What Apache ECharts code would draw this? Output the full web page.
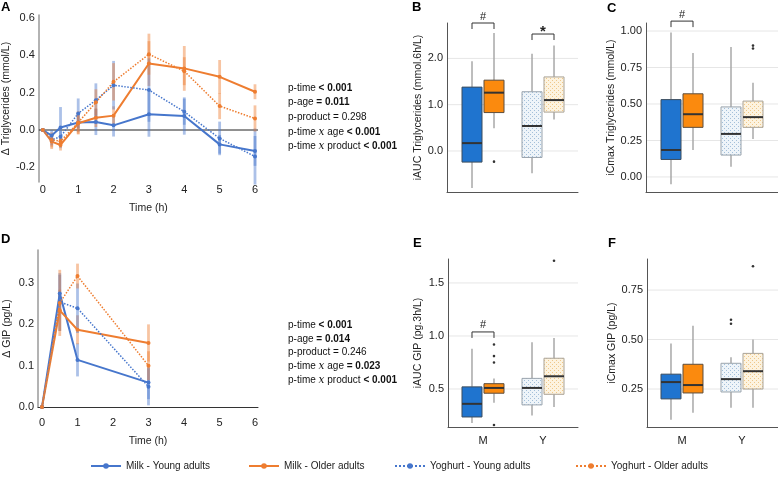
<!DOCTYPE html>
<html><head><meta charset="utf-8">
<script src="https://cdn.jsdelivr.net/npm/echarts@6/dist/echarts.min.js"></script>
<style>html,body{margin:0;padding:0;background:#fff}#c{width:778px;height:481px}</style>
</head><body><div id="c"></div>
<script>
// ---------- DATA ----------
const timesTG = [0, 0.25, 0.5, 1, 1.5, 2, 3, 4, 5, 6];
const tgMilkYoung = [0, -0.03, 0.013, 0.04, 0.043, 0.025, 0.084, 0.075, -0.077, -0.112];
const tgMilkOlder = [0, -0.062, -0.08, 0.036, 0.066, 0.077, 0.356, 0.33, 0.285, 0.205];
const tgYogYoung = [0, -0.053, -0.036, 0.089, 0.16, 0.24, 0.214, 0.098, -0.045, -0.142];
const tgYogOlder = [0, -0.053, -0.06, 0.04, 0.148, 0.258, 0.406, 0.315, 0.128, 0.062];
const tgMilkYoungSE = [0, 0.03, 0.11, 0.05, 0.07, 0.06, 0.12, 0.1, 0.05, 0.08];
const tgMilkOlderSE = [0, 0.04, 0.03, 0.06, 0.05, 0.05, 0.12, 0.12, 0.09, 0.04];
const tgYogYoungSE = [0, 0.03, 0.03, 0.08, 0.09, 0.13, 0.17, 0.07, 0.09, 0.15];
const tgYogOlderSE = [0, 0.04, 0.03, 0.06, 0.07, 0.1, 0.11, 0.075, 0.07, 0.07];

const timesGIP = [0, 0.5, 1, 3];
const gipMilkYoung = [0, 0.275, 0.114, 0.059];
const gipMilkOlder = [0, 0.234, 0.187, 0.155];
const gipYogYoung = [0, 0.254, 0.239, 0.049];
const gipYogOlder = [0, 0.252, 0.317, 0.100];
const gipMilkYoungSE = [0, 0.045, 0.04, 0.04];
const gipMilkOlderSE = [0, 0.05, 0.035, 0.045];
const gipYogYoungSE = [0, 0.07, 0.06, 0.045];
const gipYogOlderSE = [0, 0.08, 0.03, 0.035];

const hourTicks = [0, 1, 2, 3, 4, 5, 6];
const tgTicks = [-0.2, 0, 0.2, 0.4, 0.6];
const gipTicks = [0, 0.1, 0.2, 0.3];
const productCats = ['M', 'Y'];
const seriesNames = ['Milk - Young adults', 'Milk - Older adults', 'Yoghurt - Young adults', 'Yoghurt - Older adults'];

// box stats: [min, Q1, median, Q3, max]
const bMilkYoung = [-0.80, -0.24, 0.17, 1.38, 1.94];
const bMilkOlder = [0.49, 0.83, 1.26, 1.53, 2.55];
const bYogYoung = [-0.48, -0.14, 0.54, 1.28, 2.10];
const bYogOlder = [0.68, 0.84, 1.10, 1.60, 2.28];
const bOutMilkOlder = [-0.23];
const bTicks = [0, 1, 2];

const cMilkYoung = [-0.05, 0.12, 0.185, 0.53, 0.99];
const cMilkOlder = [0.185, 0.34, 0.43, 0.57, 0.85];
const cYogYoung = [0.07, 0.15, 0.295, 0.48, 0.89];
const cYogOlder = [0.26, 0.34, 0.41, 0.52, 0.645];
const cOutYogOlder = [0.88, 0.90];
const cTicks = [0, 0.25, 0.5, 0.75, 1.0];

const eMilkYoung = [0.18, 0.236, 0.36, 0.52, 0.88];
const eMilkOlder = [0.37, 0.46, 0.51, 0.55, 0.60];
const eYogYoung = [0.25, 0.35, 0.51, 0.60, 0.94];
const eYogOlder = [0.33, 0.45, 0.62, 0.79, 0.98];
const eOutMilkOlder = [0.92, 0.81, 0.75, 0.16];
const eOutYogOlder = [1.71];
const eTicks = [0.5, 1.0, 1.5];

const fMilkYoung = [0.095, 0.20, 0.285, 0.325, 0.48];
const fMilkOlder = [0.13, 0.23, 0.27, 0.375, 0.57];
const fYogYoung = [0.155, 0.235, 0.30, 0.38, 0.41];
const fYogOlder = [0.155, 0.25, 0.34, 0.43, 0.50];
const fOutYogYoung = [0.60, 0.58];
const fOutYogOlder = [0.87];
const fTicks = [0.25, 0.5, 0.75];

// significance brackets: [category index (1=M,2=Y), y value, label index]
const sigLabels = ['#', '*'];
const sigB = [[1, 2.765, 0], [2, 2.527, 1]];
const sigC = [[1, 1.068, 0]];
const sigE = [[1, 1.038, 0]];

const pTextA = ['{n|p-time }{b|< 0.001}', '{n|p-age }{b|= 0.011}', '{n|p-product = 0.298}',
  '{n|p-time }{i|x}{n| age }{b|< 0.001}', '{n|p-time }{i|x}{n| product }{b|< 0.001}'];
const pTextD = ['{n|p-time }{b|< 0.001}', '{n|p-age }{b|= 0.014}', '{n|p-product = 0.246}',
  '{n|p-time }{i|x}{n| age }{b|= 0.023}', '{n|p-time }{i|x}{n| product }{b|< 0.001}'];

// ---------- STYLE ----------
const FONT = 'Liberation Sans, Arial, Helvetica, sans-serif';
const BLUE = '#4676cc', ORANGE = '#ee7d30';
function makePattern(bg, dot) {
  const c = document.createElement('canvas'); c.width = 4; c.height = 4;
  const x = c.getContext('2d'); x.fillStyle = bg; x.fillRect(0, 0, 4, 4);
  x.fillStyle = dot; x.fillRect(0, 0, 1, 1); x.fillRect(2, 2, 1, 1);
  return { image: c, repeat: 'repeat' };
}
const boxStyles = [
  { fill: '#1f74cf', stroke: '#3d4d5d' },
  { fill: '#fb8a0e', stroke: '#5d4d3d' },
  { fill: makePattern('#eef4f9', '#a3bfd9'), stroke: '#9aa4ad' },
  { fill: makePattern('#fdf3df', '#efc88a'), stroke: '#aaa397' }
];

const chart = echarts.init(document.getElementById('c'));

const grids = [
  { left: 38, top: 15, width: 220, height: 167 },   // A
  { left: 447, top: 23, width: 131, height: 169 },  // B
  { left: 646, top: 23, width: 132, height: 169 },  // C
  { left: 38, top: 250, width: 220, height: 157 },  // D
  { left: 448, top: 259, width: 130, height: 168 }, // E
  { left: 647, top: 259, width: 131, height: 168 }  // F
];

const lbl = { fontSize: 11, color: '#222', fontFamily: FONT };
const nameStyle = { fontSize: 10.5, color: '#222', fontFamily: FONT };

function xTime(gi, lineShow, margin, gap) {
  return { type: 'value', gridIndex: gi, min: -0.113, max: 6.085,
    axisLine: { show: lineShow, onZero: false, lineStyle: { color: '#333', width: 1 } },
    axisTick: { show: false }, splitLine: { show: false },
    axisLabel: Object.assign({ customValues: hourTicks, margin: margin, formatter: v => String(v) }, lbl),
    name: 'Time (h)', nameLocation: 'middle', nameGap: gap, nameTextStyle: nameStyle };
}
function xCat(gi, min, max, showLabels) {
  return { type: 'value', gridIndex: gi, min: min, max: max,
    axisLine: { show: true, onZero: false, lineStyle: { color: '#555', width: 1 } },
    axisTick: { show: false }, splitLine: { show: false },
    axisLabel: Object.assign({ show: showLabels, customValues: [1, 2], margin: 8,
      formatter: v => productCats[Math.round(v) - 1] }, lbl) };
}
function yVal(gi, min, max, ticks, dec, name, gap, lineColor, lineW) {
  return { type: 'value', gridIndex: gi, min: min, max: max,
    axisLine: { show: true, onZero: false, lineStyle: { color: lineColor, width: lineW } },
    axisTick: { show: false }, splitLine: { show: false },
    axisLabel: Object.assign({ customValues: ticks, margin: 4, formatter: v => v.toFixed(dec) }, lbl),
    name: name, nameLocation: 'middle', nameGap: gap, nameRotate: 90, nameTextStyle: nameStyle };
}

const xAxes = [
  xTime(0, false, 2, 21),
  xCat(1, 0.4, 2.583, false),
  xCat(2, 0.4, 2.6, false),
  xTime(3, true, 10, 29),
  xCat(4, 0.417, 2.583, true),
  xCat(5, 0.417, 2.6, true)
];
const yAxes = [
  yVal(0, -0.2785, 0.616, tgTicks, 1, 'Δ Triglycerides (mmol/L)', 25, '#9a9a9a', 1.5),
  yVal(1, -0.886, 2.765, bTicks, 1, 'iAUC Triglycerides (mmol.6h/L)', 23, '#555', 1),
  yVal(2, -0.103, 1.055, cTicks, 2, 'iCmax Triglycerides (mmol/L)', 28, '#555', 1),
  yVal(3, 0, 0.38, gipTicks, 1, 'Δ GIP (pg/L)', 25, '#9a9a9a', 1.5),
  yVal(4, 0.1415, 1.726, eTicks, 1, 'iAUC GIP (pg.3h/L)', 24, '#555', 1),
  yVal(5, 0.058, 0.907, fTicks, 2, 'iCmax GIP (pg/L)', 29, '#555', 1)
];

const series = [];
function hLines(gi, vals, color, width, z) {
  series.push({ type: 'custom', xAxisIndex: gi, yAxisIndex: gi, silent: true, z: z,
    data: vals.map(v => [v]),
    renderItem: (params, api) => {
      const cs = params.coordSys;
      const y = api.coord([1, api.value(0)])[1];
      return { type: 'line', shape: { x1: cs.x, y1: y, x2: cs.x + cs.width, y2: y },
        style: { stroke: color, lineWidth: width } };
    } });
}
function lineSeries(gi, name, xs, ys, color, dotted) {
  series.push({ type: 'line', name: name, xAxisIndex: gi, yAxisIndex: gi, z: 4,
    data: xs.map((t, i) => [t, ys[i]]), symbol: 'circle', symbolSize: 4,
    lineStyle: { color: color, width: dotted ? 1.5 : 2, type: dotted ? 'dotted' : 'solid' },
    itemStyle: { color: color }, emphasis: { disabled: true } });
}
function errSeries(gi, xs, ys, se, color) {
  series.push({ type: 'custom', xAxisIndex: gi, yAxisIndex: gi, silent: true, z: 2,
    data: xs.map((t, i) => [t, ys[i] - se[i], ys[i] + se[i]]),
    renderItem: (params, api) => {
      const p1 = api.coord([api.value(0), api.value(1)]);
      const p2 = api.coord([api.value(0), api.value(2)]);
      return { type: 'line', shape: { x1: p1[0], y1: p1[1], x2: p2[0], y2: p2[1] },
        style: { stroke: color, lineWidth: 2.8, opacity: 0.45 } };
    } });
}
function boxSeries(gi, stats) {
  series.push({ type: 'custom', xAxisIndex: gi, yAxisIndex: gi, silent: true, z: 3,
    data: stats.map((s, g) => [g].concat(s)),
    renderItem: (params, api) => {
      const g = api.value(0);
      const cat = g < 2 ? 1 : 2;
      const side = g % 2 ? 1 : -1;
      const cx = api.coord([cat, 0])[0] + side * 11;
      const y = v => api.coord([cat, v])[1];
      const hw = 10, st = boxStyles[g];
      const mn = y(api.value(1)), q1 = y(api.value(2)), md = y(api.value(3)), q3 = y(api.value(4)), mx = y(api.value(5));
      return { type: 'group', children: [
        { type: 'line', shape: { x1: cx, y1: mn, x2: cx, y2: q1 }, style: { stroke: '#a8a8a8', lineWidth: 1.5 } },
        { type: 'line', shape: { x1: cx, y1: q3, x2: cx, y2: mx }, style: { stroke: '#a8a8a8', lineWidth: 1.5 } },
        { type: 'rect', shape: { x: cx - hw, y: q3, width: 2 * hw, height: q1 - q3 }, style: { fill: st.fill, stroke: st.stroke, lineWidth: 1 } },
        { type: 'line', shape: { x1: cx - hw, y1: md, x2: cx + hw, y2: md }, style: { stroke: '#333', lineWidth: 2 } }
      ] };
    } });
}
function outSeries(gi, groupOutliers) {
  const data = [];
  groupOutliers.forEach((arr, g) => (arr || []).forEach(v => data.push([g, v])));
  series.push({ type: 'custom', xAxisIndex: gi, yAxisIndex: gi, silent: true, z: 4, data: data,
    renderItem: (params, api) => {
      const g = api.value(0);
      const cat = g < 2 ? 1 : 2;
      const side = g % 2 ? 1 : -1;
      const p = api.coord([cat, api.value(1)]);
      return { type: 'circle', shape: { cx: p[0] + side * 11, cy: p[1], r: 1.3 }, style: { fill: '#333' } };
    } });
}
function sigSeries(gi, rows) {
  series.push({ type: 'custom', xAxisIndex: gi, yAxisIndex: gi, silent: true, z: 5, data: rows,
    renderItem: (params, api) => {
      const p = api.coord([api.value(0), api.value(1)]);
      const x1 = p[0] - 11, x2 = p[0] + 11, y = p[1];
      const lab = sigLabels[api.value(2)];
      const star = lab === '*';
      return { type: 'group', children: [
        { type: 'polyline', shape: { points: [[x1, y + 6], [x1, y], [x2, y], [x2, y + 6]] }, style: { stroke: '#333', lineWidth: 1, fill: null } },
        { type: 'text', x: p[0], y: star ? y + 5 : y - 1, style: { text: lab, textAlign: 'center', textVerticalAlign: 'bottom',
          font: (star ? 'bold 15px ' : '11px ') + FONT, fill: '#222' } }
      ] };
    } });
}

// Panel A
hLines(0, [0], '#222', 1, 1);
errSeries(0, timesTG, tgMilkYoung, tgMilkYoungSE, BLUE);
errSeries(0, timesTG, tgMilkOlder, tgMilkOlderSE, ORANGE);
errSeries(0, timesTG, tgYogYoung, tgYogYoungSE, BLUE);
errSeries(0, timesTG, tgYogOlder, tgYogOlderSE, ORANGE);
lineSeries(0, seriesNames[0], timesTG, tgMilkYoung, BLUE, false);
lineSeries(0, seriesNames[1], timesTG, tgMilkOlder, ORANGE, false);
lineSeries(0, seriesNames[2], timesTG, tgYogYoung, BLUE, true);
lineSeries(0, seriesNames[3], timesTG, tgYogOlder, ORANGE, true);
// Panel D
errSeries(3, timesGIP, gipMilkYoung, gipMilkYoungSE, BLUE);
errSeries(3, timesGIP, gipMilkOlder, gipMilkOlderSE, ORANGE);
errSeries(3, timesGIP, gipYogYoung, gipYogYoungSE, BLUE);
errSeries(3, timesGIP, gipYogOlder, gipYogOlderSE, ORANGE);
lineSeries(3, seriesNames[0], timesGIP, gipMilkYoung, BLUE, false);
lineSeries(3, seriesNames[1], timesGIP, gipMilkOlder, ORANGE, false);
lineSeries(3, seriesNames[2], timesGIP, gipYogYoung, BLUE, true);
lineSeries(3, seriesNames[3], timesGIP, gipYogOlder, ORANGE, true);
// Panel B
hLines(1, bTicks, '#e6e6e6', 1, 0);
boxSeries(1, [bMilkYoung, bMilkOlder, bYogYoung, bYogOlder]);
outSeries(1, [[], bOutMilkOlder, [], []]);
sigSeries(1, sigB);
// Panel C
hLines(2, cTicks, '#e6e6e6', 1, 0);
boxSeries(2, [cMilkYoung, cMilkOlder, cYogYoung, cYogOlder]);
outSeries(2, [[], [], [], cOutYogOlder]);
sigSeries(2, sigC);
// Panel E
hLines(4, eTicks, '#e6e6e6', 1, 0);
boxSeries(4, [eMilkYoung, eMilkOlder, eYogYoung, eYogOlder]);
outSeries(4, [[], eOutMilkOlder, [], eOutYogOlder]);
sigSeries(4, sigE);
// Panel F
hLines(5, fTicks, '#e6e6e6', 1, 0);
boxSeries(5, [fMilkYoung, fMilkOlder, fYogYoung, fYogOlder]);
outSeries(5, [[], [], fOutYogYoung, fOutYogOlder]);

const rich = {
  n: { fontSize: 10, fontFamily: FONT, fill: '#111' },
  b: { fontSize: 10, fontFamily: FONT, fill: '#111', fontWeight: 'bold' },
  i: { fontSize: 10.5, fontFamily: 'DejaVu Serif, serif', fontStyle: 'italic', fill: '#111' }
};
const graphic = [];
[['A', 1, 1], ['B', 412, 1], ['C', 607, 2], ['D', 1, 233], ['E', 413, 237], ['F', 608, 237]].forEach(p => {
  graphic.push({ type: 'text', x: p[1], y: p[2], style: { text: p[0], font: 'bold 13px ' + FONT, fill: '#000', textVerticalAlign: 'top' } });
});
pTextA.forEach((t, i) => graphic.push({ type: 'text', x: 288, y: 88 + i * 14.6, style: { text: t, rich: rich, textVerticalAlign: 'middle' } }));
pTextD.forEach((t, i) => graphic.push({ type: 'text', x: 288, y: 325 + i * 13.8, style: { text: t, rich: rich, textVerticalAlign: 'middle' } }));

const legendLefts = [85, 243, 389, 570];
const legends = seriesNames.map((n, i) => ({ data: [n], left: legendLefts[i], top: 456, itemWidth: 30, itemHeight: 7, itemGap: 5,
  textStyle: { fontSize: 10, color: '#222', fontFamily: FONT }, selectedMode: false }));

chart.setOption({
  animation: false,
  textStyle: { fontFamily: FONT },
  grid: grids,
  xAxis: xAxes,
  yAxis: yAxes,
  legend: legends,
  series: series,
  graphic: graphic
});
</script></body></html>
